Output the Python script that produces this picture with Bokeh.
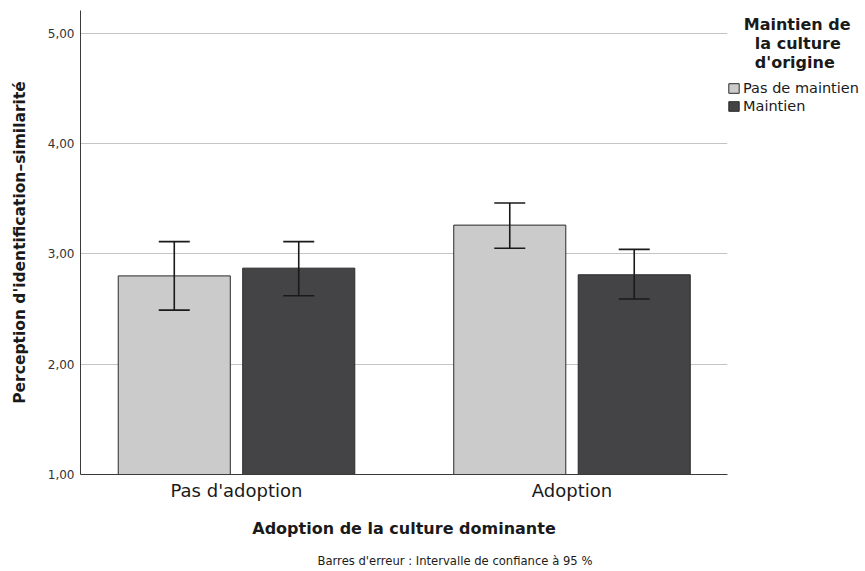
import numpy as np
from bokeh.plotting import figure
from bokeh.models import (ColumnDataSource, Range1d, FixedTicker, Whisker, TeeHead,
                          Legend, LegendItem, Title)
from bokeh.embed import file_html
from bokeh.resources import INLINE

# ---- data ----
groups = ["Pas d'adoption", "Adoption"]
series = ["Pas de maintien", "Maintien"]
mean_pas_maintien = [2.80, 3.26]
mean_maintien = [2.87, 2.81]
ci_low_pas_maintien = [2.49, 3.05]
ci_high_pas_maintien = [3.11, 3.46]
ci_low_maintien = [2.62, 2.59]
ci_high_maintien = [3.11, 3.04]
y_ticks = [1, 2, 3, 4, 5]
y_tick_labels = ["1,00", "2,00", "3,00", "4,00", "5,00"]
legend_title_lines = ["Maintien de", "la culture", "d'origine"]
x_title = "Adoption de la culture dominante"
y_title = "Perception d'identification\u2013similarit\u00e9"
footnote = "Barres d'erreur : Intervalle de confiance \u00e0 95 %"

FONT = "DejaVu Sans"
fills = ["#cbcbcb", "#444447"]
offsets = [-0.1855, 0.1855]
bar_w = 0.334
INK = "#1a1a1a"

group_pos = np.arange(len(groups)) + 0.5

p = figure(frame_width=647, frame_height=464, output_backend="svg", toolbar_location=None,
           x_range=Range1d(0.035, 1.9635), y_range=Range1d(1, 5.205),
           min_border_left=80, min_border_top=10, min_border_right=138,
           min_border_bottom=0)
p.outline_line_color = None
p.background_fill_color = "white"
p.border_fill_color = "white"

means = [mean_pas_maintien, mean_maintien]
lows = [ci_low_pas_maintien, ci_low_maintien]
highs = [ci_high_pas_maintien, ci_high_maintien]

renderers = []
for k in range(len(series)):
    src = ColumnDataSource(dict(x=group_pos + offsets[k], top=means[k],
                                lower=lows[k], upper=highs[k]))
    r = p.vbar(x="x", top="top", bottom=1, width=bar_w, source=src,
               fill_color=fills[k], line_color="#2a2a2a", line_width=1)
    renderers.append(r)
    w = Whisker(base="x", lower="lower", upper="upper", source=src,
                line_color=INK, line_width=1.6, level="overlay",
                upper_head=TeeHead(size=31, line_color=INK, line_width=1.6),
                lower_head=TeeHead(size=31, line_color=INK, line_width=1.6))
    p.add_layout(w)

# axes
p.xgrid.visible = False
p.ygrid.grid_line_color = "#c4c4c4"
p.ygrid.grid_line_width = 1

p.yaxis.ticker = FixedTicker(ticks=y_ticks)
p.yaxis.major_label_overrides = {t: l for t, l in zip(y_ticks, y_tick_labels)}
p.yaxis.major_label_text_font = FONT
p.yaxis.major_label_text_font_size = "12px"
p.yaxis.major_label_text_color = "#333333"
p.yaxis.major_label_standoff = 6
p.yaxis.axis_label = y_title
p.yaxis.axis_label_text_font = FONT
p.yaxis.axis_label_text_font_size = "15.5px"
p.yaxis.axis_label_text_font_style = "bold"
p.yaxis.axis_label_text_color = INK
p.yaxis.axis_label_standoff = 16

p.xaxis.ticker = FixedTicker(ticks=list(group_pos))
p.xaxis.major_label_overrides = {float(x): g for x, g in zip(group_pos, groups)}
p.xaxis.major_label_text_font = FONT
p.xaxis.major_label_text_font_size = "18px"
p.xaxis.major_label_text_color = INK
p.xaxis.major_label_standoff = 5

for ax in (p.xaxis, p.yaxis):
    ax.axis_line_color = "#3a3a3a"
    ax.axis_line_width = 1
    ax.major_tick_in = 0
    ax.major_tick_out = 0
    ax.minor_tick_in = 0
    ax.minor_tick_out = 0

# x title and footnote stacked below the axis
p.add_layout(Title(text=x_title, align="center", vertical_align="middle",
                   text_font=FONT, text_font_size="16px", text_font_style="bold",
                   text_color=INK, standoff=29), "below")
p.add_layout(Title(text=footnote, align="left", offset=237, vertical_align="top",
                   text_font=FONT, text_font_size="11.6px", text_font_style="normal",
                   text_color=INK, standoff=0), "below")

# legend, to the right of the frame
NB = "\u00a0"
pads = [3, 5, 5]
title = "\n".join(NB * n + t for n, t in zip(pads, legend_title_lines))
legend = Legend(items=[LegendItem(label=s, renderers=[r]) for s, r in zip(series, renderers)],
                location=(0, 360), title=title,
                title_text_font=FONT, title_text_font_size="16px",
                title_text_font_style="bold", title_text_color=INK,
                title_text_line_height=1.05, title_standoff=8,
                label_text_font=FONT, label_text_font_size="14.5px",
                label_text_color=INK,
                glyph_width=13, glyph_height=12, label_height=12, spacing=2,
                label_standoff=3, padding=2, margin=0,
                border_line_color=None, background_fill_alpha=0)
p.add_layout(legend, "right")

open("out.html", "w").write(file_html(p, INLINE))
